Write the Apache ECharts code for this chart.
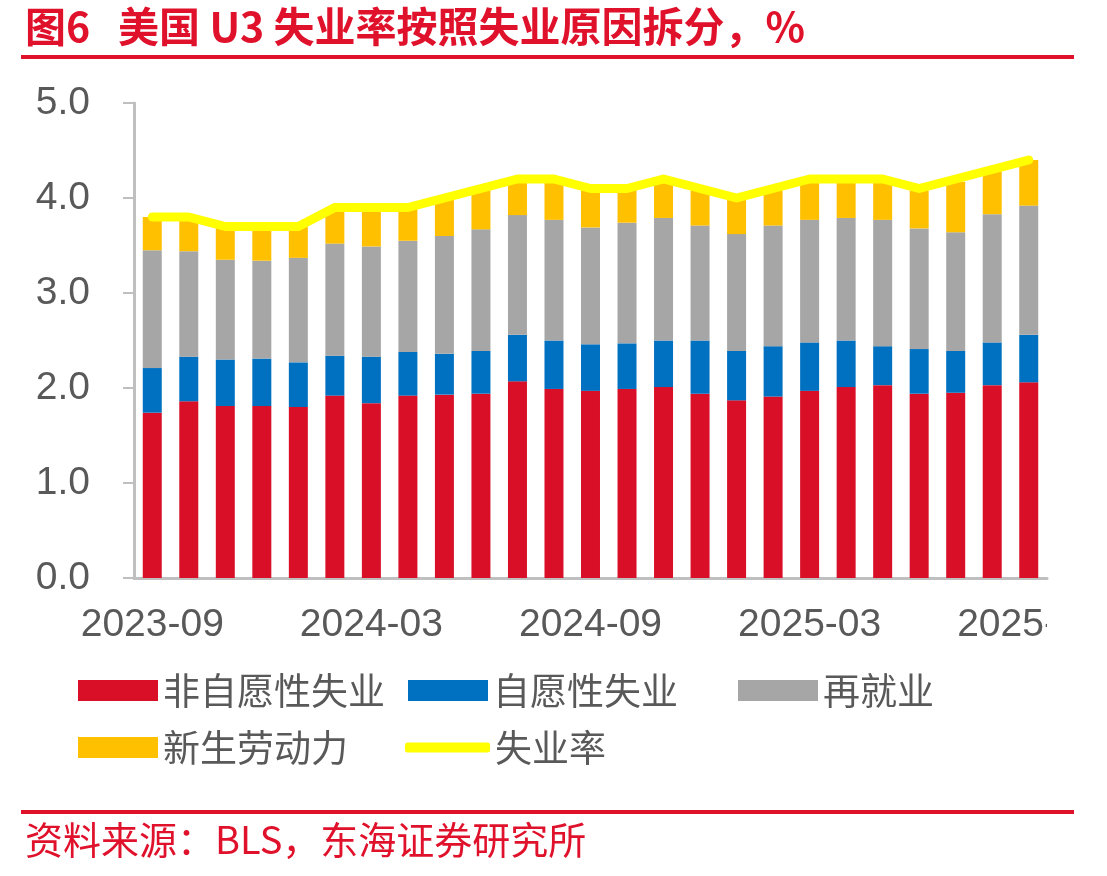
<!DOCTYPE html>
<html>
<head>
<meta charset="utf-8">
<script src="https://cdn.jsdelivr.net/npm/echarts@6/dist/echarts.min.js"></script>
<style>
  html, body { margin: 0; padding: 0; background: #fff; }
  #chart { width: 1107px; height: 876px; }
</style>
</head>
<body>
<div id="chart"></div>
<script>
// months 2023-09 .. 2025-09
const months = [
  "2023-09", "2023-10", "2023-11", "2023-12",
  "2024-01", "2024-02", "2024-03", "2024-04", "2024-05", "2024-06",
  "2024-07", "2024-08", "2024-09", "2024-10", "2024-11", "2024-12",
  "2025-01", "2025-02", "2025-03", "2025-04", "2025-05", "2025-06",
  "2025-07", "2025-08", "2025-09"
];
const involuntary = [1.74, 1.86, 1.81, 1.81, 1.80, 1.92, 1.84, 1.92, 1.93, 1.94, 2.07, 1.99, 1.97,
  1.99, 2.01, 1.94, 1.87, 1.91, 1.97, 2.01, 2.03, 1.94, 1.95, 2.03, 2.06];
const voluntary = [0.47, 0.47, 0.49, 0.50, 0.47, 0.42, 0.49, 0.46, 0.43, 0.45, 0.49, 0.51, 0.49,
  0.48, 0.49, 0.56, 0.52, 0.53, 0.51, 0.49, 0.41, 0.47, 0.44, 0.45, 0.50];
const reentrants = [1.24, 1.11, 1.05, 1.03, 1.10, 1.18, 1.16, 1.17, 1.24, 1.28, 1.26, 1.27, 1.23,
  1.27, 1.29, 1.21, 1.23, 1.27, 1.29, 1.29, 1.33, 1.27, 1.25, 1.35, 1.36];
const newEntrants = [0.35, 0.36, 0.35, 0.36, 0.33, 0.38, 0.37, 0.35, 0.38, 0.42, 0.34, 0.39, 0.40,
  0.35, 0.39, 0.37, 0.36, 0.37, 0.41, 0.39, 0.41, 0.40, 0.53, 0.45, 0.48];
const u3Rate = [3.8, 3.8, 3.7, 3.7, 3.7, 3.9, 3.9, 3.9, 4.0, 4.1, 4.2, 4.2, 4.1,
  4.1, 4.2, 4.1, 4.0, 4.1, 4.2, 4.2, 4.2, 4.1, 4.2, 4.3, 4.4];
const yTicks = [0, 1, 2, 3, 4, 5];

const RED = "#E0112B";
const GREY_TXT = "#595959";
const AXIS = "#BFBFBF";
const NUM_FONT = "'Liberation Sans', Arial, sans-serif";
const CJK_FONT = "'Noto Sans CJK SC', sans-serif";

const chart = echarts.init(document.getElementById("chart"));

function legendBox(name, left, top, extra) {
  return Object.assign({
    data: [name],
    left: left,
    top: top,
    padding: 0,
    itemWidth: 80,
    itemHeight: 21,
    itemGap: 0,
    icon: "rect",
    textStyle: { fontSize: 37, color: GREY_TXT, fontFamily: CJK_FONT }
  }, extra || {});
}

const barNames = ["非自愿性失业", "自愿性失业", "再就业", "新生劳动力"];
const barColors = ["#D80F27", "#0070C0", "#A6A6A6", "#FFC000"];
const barData = [involuntary, voluntary, reentrants, newEntrants];

const series = barNames.map((n, i) => ({
  name: n,
  type: "bar",
  stack: "u3",
  barWidth: "52%",
  itemStyle: { color: barColors[i] },
  data: barData[i]
}));
series.push({
  name: "失业率",
  type: "line",
  data: u3Rate,
  symbol: "none",
  z: 5,
  lineStyle: { color: "#FFFF00", width: 9, cap: "round", join: "round" },
  itemStyle: { color: "#FFFF00" }
});

const options = {
  animation: false,
  title: [
    {
      text: "图6   美国 U3 失业率按照失业原因拆分，%",
      left: 20, top: 1,
      textStyle: { fontSize: 41, fontWeight: "bold", color: RED, fontFamily: CJK_FONT }
    },
    {
      text: "资料来源：BLS，东海证券研究所",
      left: 20, top: 816,
      textStyle: { fontSize: 38, fontWeight: "normal", color: RED, fontFamily: CJK_FONT }
    }
  ],
  graphic: [
    { type: "rect", shape: { x: 21, y: 55, width: 1053, height: 4 }, style: { fill: RED } },
    { type: "rect", shape: { x: 21, y: 810, width: 1053, height: 4 }, style: { fill: RED } },
    // the last date label is clipped in the source figure
    { type: "rect", z: 100, shape: { x: 1047, y: 592, width: 60, height: 60 }, style: { fill: "#fff" } }
  ],
  legend: [
    legendBox("非自愿性失业", 78, 672),
    legendBox("自愿性失业", 408, 672),
    legendBox("再就业", 738, 672),
    legendBox("新生劳动力", 78, 729),
    legendBox("失业率", 405, 729, { icon: "roundRect", itemWidth: 85, itemHeight: 10 })
  ],
  grid: { left: 134, right: 60, top: 103, bottom: 298 },
  xAxis: {
    type: "category",
    data: months,
    boundaryGap: true,
    axisLine: { lineStyle: { color: AXIS, width: 3 } },
    axisTick: { interval: 5, length: 11, lineStyle: { color: AXIS, width: 2 } },
    axisLabel: {
      interval: 5, margin: 28,
      fontSize: 39, color: GREY_TXT, fontFamily: NUM_FONT
    }
  },
  yAxis: {
    type: "value",
    min: yTicks[0],
    max: yTicks[yTicks.length - 1],
    interval: 1,
    splitLine: { show: false },
    axisLine: { show: true, lineStyle: { color: AXIS, width: 3 } },
    axisTick: { show: true, length: 11, lineStyle: { color: AXIS, width: 2 } },
    axisLabel: {
      margin: 44,
      fontSize: 39, color: GREY_TXT, fontFamily: NUM_FONT,
      formatter: v => v.toFixed(1)
    }
  },
  series: series
};

chart.setOption(options);
</script>
</body>
</html>
